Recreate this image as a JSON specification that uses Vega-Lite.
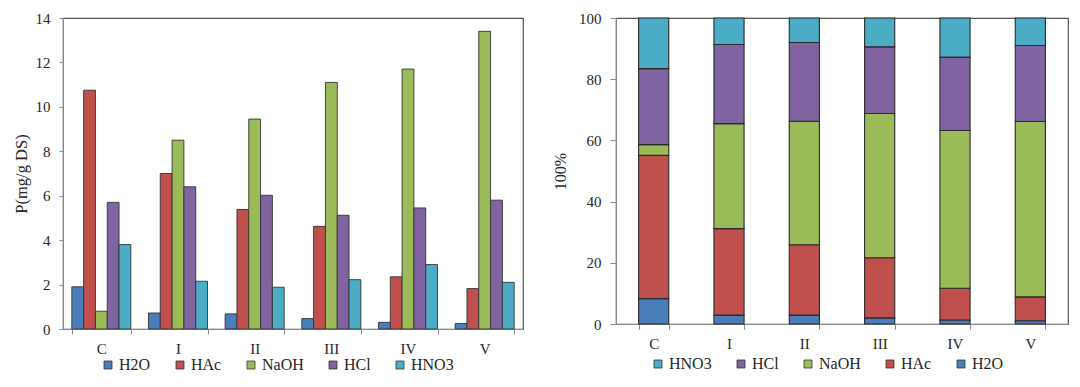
{
  "$schema": "https://vega.github.io/schema/vega-lite/v6.json",
  "padding": {"top": 10, "left": 12, "right": 5, "bottom": 5},
  "background": "white",
  "config": {
    "font": "Liberation Serif",
    "view": {"stroke": "#555555", "strokeWidth": 1.2},
    "axis": {
      "labelFont": "Liberation Serif", "titleFont": "Liberation Serif",
      "labelFontSize": 15, "titleFontSize": 16.5, "titleFontWeight": "normal",
      "labelColor": "#262626", "titleColor": "#262626",
      "domainColor": "#8a8a8a", "tickColor": "#8a8a8a", "grid": false,
      "tickSize": 5
    },
    "legend": {
      "labelFont": "Liberation Serif", "labelFontSize": 16, "labelColor": "#262626",
      "symbolType": "square", "symbolSize": 64, "symbolStrokeColor": "#333333", "symbolStrokeWidth": 0.8,
      "labelOffset": 3, "columnPadding": 21, "direction": "horizontal", "orient": "none"
    }
  },
  "data": {"values": [
    {"g": "C", "s": "H2O", "k": 1, "v": 1.9},
    {"g": "C", "s": "HAc", "k": 2, "v": 10.75},
    {"g": "C", "s": "NaOH", "k": 3, "v": 0.8},
    {"g": "C", "s": "HCl", "k": 4, "v": 5.7},
    {"g": "C", "s": "HNO3", "k": 5, "v": 3.8},
    {"g": "I", "s": "H2O", "k": 1, "v": 0.72},
    {"g": "I", "s": "HAc", "k": 2, "v": 7.0},
    {"g": "I", "s": "NaOH", "k": 3, "v": 8.5},
    {"g": "I", "s": "HCl", "k": 4, "v": 6.4},
    {"g": "I", "s": "HNO3", "k": 5, "v": 2.15},
    {"g": "II", "s": "H2O", "k": 1, "v": 0.68},
    {"g": "II", "s": "HAc", "k": 2, "v": 5.38},
    {"g": "II", "s": "NaOH", "k": 3, "v": 9.45},
    {"g": "II", "s": "HCl", "k": 4, "v": 6.02},
    {"g": "II", "s": "HNO3", "k": 5, "v": 1.88},
    {"g": "III", "s": "H2O", "k": 1, "v": 0.47},
    {"g": "III", "s": "HAc", "k": 2, "v": 4.62},
    {"g": "III", "s": "NaOH", "k": 3, "v": 11.1},
    {"g": "III", "s": "HCl", "k": 4, "v": 5.12},
    {"g": "III", "s": "HNO3", "k": 5, "v": 2.22},
    {"g": "IV", "s": "H2O", "k": 1, "v": 0.3},
    {"g": "IV", "s": "HAc", "k": 2, "v": 2.35},
    {"g": "IV", "s": "NaOH", "k": 3, "v": 11.7},
    {"g": "IV", "s": "HCl", "k": 4, "v": 5.45},
    {"g": "IV", "s": "HNO3", "k": 5, "v": 2.9},
    {"g": "V", "s": "H2O", "k": 1, "v": 0.25},
    {"g": "V", "s": "HAc", "k": 2, "v": 1.82},
    {"g": "V", "s": "NaOH", "k": 3, "v": 13.4},
    {"g": "V", "s": "HCl", "k": 4, "v": 5.8},
    {"g": "V", "s": "HNO3", "k": 5, "v": 2.1}
  ]},
  "hconcat": [
    {
      "width": 460,
      "height": 311,
      "mark": {"type": "bar", "stroke": "#333333", "strokeWidth": 0.9},
      "encoding": {
        "x": {
          "field": "g", "type": "nominal", "sort": ["C", "I", "II", "III", "IV", "V"],
          "scale": {"paddingInner": 0.23, "paddingOuter": 0.115},
          "axis": {"title": null, "labelAngle": 0, "tickBand": "extent", "labelPadding": 7}
        },
        "xOffset": {
          "field": "s", "type": "nominal", "sort": ["H2O", "HAc", "NaOH", "HCl", "HNO3"],
          "scale": {"paddingInner": 0, "paddingOuter": 0}
        },
        "y": {
          "field": "v", "type": "quantitative",
          "scale": {"domain": [0, 14], "nice": false},
          "axis": {"title": "P(mg/g DS)", "values": [0, 2, 4, 6, 8, 10, 12, 14], "labelPadding": 9, "tickSize": 4, "titlePadding": 6}
        },
        "color": {
          "field": "s", "type": "nominal",
          "scale": {"domain": ["H2O", "HAc", "NaOH", "HCl", "HNO3"], "range": ["#4A7EBB", "#C0504D", "#9BBB59", "#8064A2", "#4BACC6"]},
          "legend": {"title": null, "legendX": 37, "legendY": 339}
        }
      }
    },
    {
      "width": 452,
      "height": 306,
      "mark": {"type": "bar", "stroke": "#2a2a2a", "strokeWidth": 1.1},
      "encoding": {
        "x": {
          "field": "g", "type": "nominal", "sort": ["C", "I", "II", "III", "IV", "V"],
          "scale": {"paddingInner": 0.6, "paddingOuter": 0.3},
          "axis": {"title": null, "labelAngle": 0, "tickBand": "extent", "labelPadding": 7}
        },
        "y": {
          "field": "v", "type": "quantitative", "stack": "normalize",
          "scale": {"domain": [0, 1], "nice": false},
          "axis": {"title": "100%", "values": [0, 0.2, 0.4, 0.6, 0.8, 1], "labelExpr": "round(datum.value * 100)", "labelPadding": 9, "tickSize": 6, "titlePadding": 10, "titleFontSize": 16}
        },
        "order": {"field": "k", "type": "quantitative", "sort": "ascending"},
        "color": {
          "field": "s", "type": "nominal",
          "scale": {"domain": ["HNO3", "HCl", "NaOH", "HAc", "H2O"], "range": ["#4BACC6", "#8064A2", "#9BBB59", "#C0504D", "#4A7EBB"]},
          "legend": {"title": null, "legendX": 34, "legendY": 338}
        }
      }
    }
  ],
  "spacing": 27,
  "resolve": {"scale": {"color": "independent"}, "legend": {"color": "independent"}}
}
